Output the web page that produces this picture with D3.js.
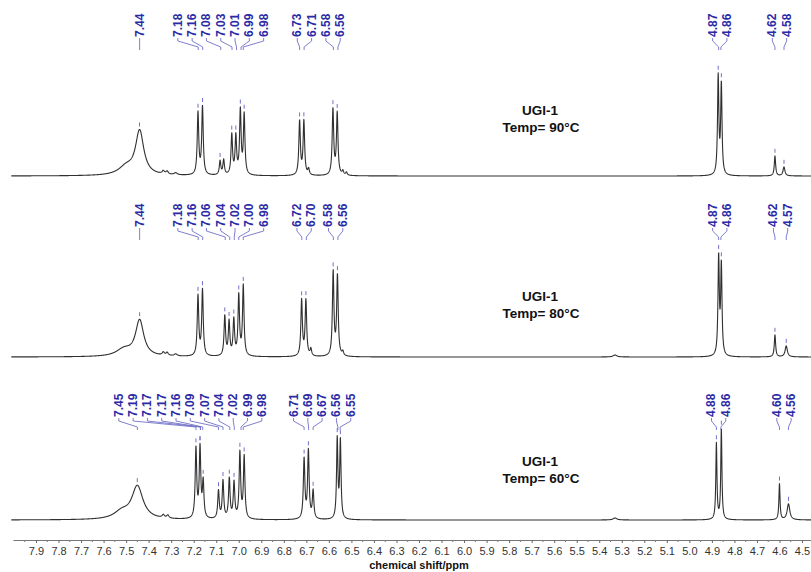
<!DOCTYPE html>
<html><head><meta charset="utf-8">
<script src="https://cdn.jsdelivr.net/npm/d3@7"></script>
<style>
html,body{margin:0;padding:0;background:#fff;}
svg{display:block;}
</style></head>
<body>
<svg id="c" width="811" height="572"></svg>
<script>
// ---------- DATA ----------
const tickValues = [7.9,7.8,7.7,7.6,7.5,7.4,7.3,7.2,7.1,7.0,6.9,6.8,6.7,6.6,6.5,6.4,6.3,6.2,6.1,6.0,5.9,5.8,5.7,5.6,5.5,5.4,5.3,5.2,5.1,5.0,4.9,4.8,4.7,4.6,4.5];
const axisTitle = "chemical shift/ppm";
const sampleName = "UGI-1";
const temps = ["Temp= 90°C", "Temp= 80°C", "Temp= 60°C"];

// peak components: [ppm, intensity, half-width(ppm)]
const peaks90 = [
  [7.50, 8, 0.04], [7.44, 44, 0.022],
  [7.335, 3, 0.006], [7.318, 3, 0.006], [7.28, 2, 0.008],
  [7.181, 62, 0.004], [7.161, 68, 0.004],
  [7.083, 14, 0.004], [7.067, 15, 0.004],
  [7.031, 40, 0.004], [7.013, 38, 0.004],
  [6.993, 64, 0.004], [6.976, 60, 0.004],
  [6.730, 54, 0.004], [6.711, 54, 0.004], [6.690, 6, 0.004],
  [6.582, 66, 0.004], [6.563, 62, 0.004], [6.538, 4, 0.004], [6.522, 3, 0.004],
  [4.872, 98, 0.0035], [4.858, 90, 0.0035],
  [4.620, 20, 0.0035], [4.580, 9, 0.005]
];
const peaks80 = [
  [7.51, 7, 0.04], [7.44, 36, 0.022],
  [7.335, 3, 0.006], [7.318, 3, 0.006], [7.28, 2, 0.008],
  [7.181, 60, 0.004], [7.161, 66, 0.004],
  [7.062, 40, 0.004], [7.043, 34, 0.004],
  [7.022, 36, 0.004], [7.000, 60, 0.004], [6.980, 70, 0.004],
  [6.721, 56, 0.004], [6.702, 56, 0.004], [6.680, 7, 0.004],
  [6.581, 84, 0.004], [6.562, 80, 0.004], [6.538, 4, 0.004],
  [5.33, 2, 0.01],
  [4.870, 98, 0.0035], [4.858, 90, 0.0035],
  [4.620, 22, 0.0035], [4.570, 11, 0.006]
];
const peaks60 = [
  [7.52, 7, 0.04], [7.45, 33, 0.03],
  [7.335, 3, 0.006], [7.315, 3, 0.006],
  [7.190, 70, 0.004], [7.172, 70, 0.004], [7.158, 36, 0.004],
  [7.090, 28, 0.004], [7.070, 38, 0.004], [7.042, 40, 0.004], [7.021, 36, 0.004],
  [6.995, 66, 0.004], [6.976, 62, 0.004],
  [6.710, 60, 0.004], [6.691, 68, 0.004], [6.670, 28, 0.004],
  [6.563, 80, 0.0035], [6.549, 78, 0.0035],
  [5.33, 2, 0.01],
  [4.880, 76, 0.003], [4.858, 91, 0.003],
  [4.600, 36, 0.003], [4.560, 16, 0.007]
];

const labels90 = ["7.44","7.18","7.16","7.08","7.03","7.01","6.99","6.98","6.73","6.71","6.58","6.56","4.87","4.86","4.62","4.58"];
const labels80 = ["7.44","7.18","7.16","7.06","7.04","7.02","7.00","6.98","6.72","6.70","6.58","6.56","4.87","4.86","4.62","4.57"];
const labels60 = ["7.45","7.19","7.17","7.17","7.16","7.09","7.07","7.04","7.02","6.99","6.98","6.71","6.69","6.67","6.56","6.55","4.88","4.86","4.60","4.56"];
// label groups (first index, last index) as stacked by the annotation
const groups90 = [[0,0],[1,7],[8,11],[12,13],[14,15]];
const groups80 = [[0,0],[1,7],[8,9],[10,11],[12,13],[14,15]];
const groups60 = [[0,10],[11,15],[16,17],[18,19]];

// ---------- LAYOUT ----------
const W = 811, H = 572;
const svg = d3.select("#c");
const x = d3.scaleLinear().domain([7.9, 4.5]).range([36, 802]);
const axisY = 540;
const FONT = "Liberation Sans, Arial, sans-serif";

const panels = [
  {peaks: peaks90, labels: labels90, groups: groups90, temp: temps[0], base: 176, labelBottom: 37, titleY: 115},
  {peaks: peaks80, labels: labels80, groups: groups80, temp: temps[1], base: 357, labelBottom: 227, titleY: 301},
  {peaks: peaks60, labels: labels60, groups: groups60, temp: temps[2], base: 520, labelBottom: 417, titleY: 466}
];

function spectrum(peaks, ppm) {
  let s = 0;
  for (const [p, h, g] of peaks) { const d = (ppm - p) / g; s += h / (1 + d * d); }
  return s;
}

const grid = d3.range(4.44, 8.01, 0.0008);
const labelBlue = "#2b2ba6";
const connBlue = "#7070c8";
const spacing = 14.3;

function layoutLabels(px, groups) {
  const out = new Array(px.length);
  for (const [a, b] of groups) {
    const n = b - a + 1;
    const mid = (px[a] + px[b]) / 2;
    for (let k = a; k <= b; k++) out[k] = mid + (k - a - (n - 1) / 2) * spacing;
  }
  return out;
}

panels.forEach(pn => {
  const y = d3.scaleLinear().domain([0, 100]).range([pn.base, pn.base - 100]);
  const line = d3.line().x(d => x(d)).y(d => y(spectrum(pn.peaks, d)));
  svg.append("path").datum(grid)
    .attr("d", line).attr("fill", "none")
    .attr("stroke", "#303030").attr("stroke-width", 1.1).attr("stroke-linejoin", "round");

  const ppmVals = pn.labels.map(t => +t);
  const peakX = ppmVals.map(v => x(v));
  const labX = layoutLabels(peakX, pn.groups);
  const g = svg.append("g");
  pn.labels.forEach((t, i) => {
    const lx = labX[i], px = peakX[i], yb = pn.labelBottom;
    g.append("path")
      .attr("d", `M${lx},${yb + 1}L${lx},${yb + 4}L${px},${yb + 10}L${px},${yb + 13}`)
      .attr("fill", "none").attr("stroke", connBlue).attr("stroke-width", 0.9);
    g.append("text")
      .attr("transform", `translate(${lx},${yb}) rotate(-90)`)
      .attr("text-anchor", "start").attr("dominant-baseline", "central")
      .attr("font-family", FONT)
      .attr("font-weight", "bold").attr("font-size", 12)
      .attr("fill", labelBlue).text(t);
    let best = 0, bestP = ppmVals[i];
    for (let d = -0.006; d <= 0.006; d += 0.0005) {
      const v = spectrum(pn.peaks, ppmVals[i] + d);
      if (v > best) { best = v; bestP = ppmVals[i] + d; }
    }
    const ty = y(best);
    g.append("line").attr("x1", x(bestP)).attr("x2", x(bestP))
      .attr("y1", ty - 7).attr("y2", ty - 3)
      .attr("stroke", connBlue).attr("stroke-width", 1);
  });

  svg.append("text").attr("x", 540).attr("y", pn.titleY)
    .attr("text-anchor", "middle").attr("font-family", FONT)
    .attr("font-weight", "bold").attr("font-size", 13.5).attr("fill", "#111").text(sampleName);
  svg.append("text").attr("x", 541).attr("y", pn.titleY + 17)
    .attr("text-anchor", "middle").attr("font-family", FONT)
    .attr("font-weight", "bold").attr("font-size", 13.5).attr("fill", "#111").text(pn.temp);
});

// ---------- AXIS ----------
const axis = d3.axisBottom(x).tickValues(tickValues).tickFormat(d3.format(".1f")).tickSize(3).tickPadding(4);
const ag = svg.append("g").attr("transform", `translate(0,${axisY})`).call(axis);
ag.select(".domain").attr("d", `M${x(8.0)},0.5H${W}`).attr("stroke", "#777");
ag.selectAll(".tick line").attr("stroke", "#666");
ag.selectAll(".tick text").attr("font-family", FONT)
  .attr("font-size", 11).attr("fill", "#333");
const minor = tickValues.map(v => v + 0.05).filter(v => v < 8.0);
ag.selectAll(".minor").data(minor).enter().append("line")
  .attr("x1", d => x(d)).attr("x2", d => x(d)).attr("y1", 0).attr("y2", 2)
  .attr("stroke", "#777");
svg.append("text").attr("x", 419).attr("y", 569).attr("text-anchor", "middle")
  .attr("font-family", FONT).attr("font-weight", "bold")
  .attr("font-size", 11).attr("fill", "#111").text(axisTitle);
</script>
</body></html>
